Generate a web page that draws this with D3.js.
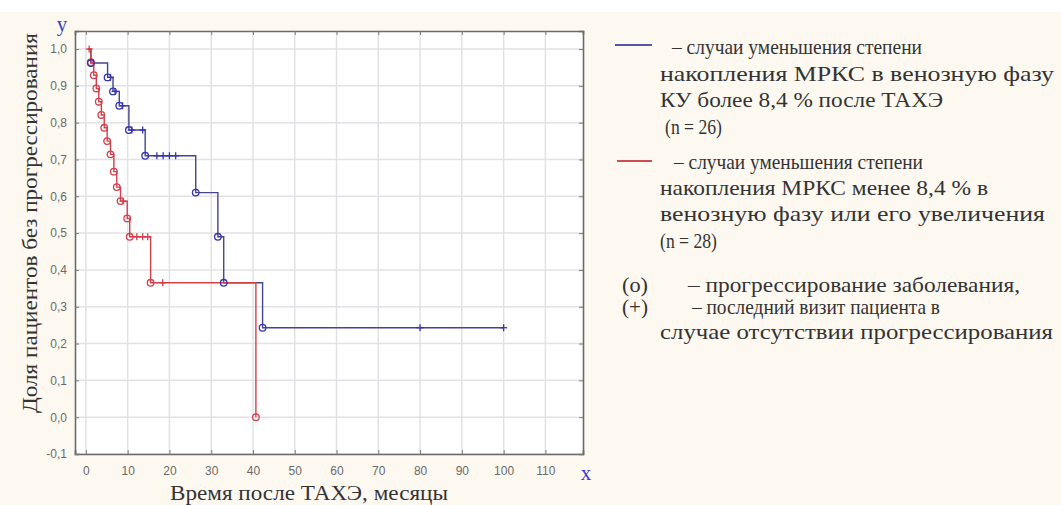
<!DOCTYPE html>
<html>
<head>
<meta charset="utf-8">
<script src="https://cdn.jsdelivr.net/npm/d3@7"></script>
<style>
  html, body { margin: 0; padding: 0; background: #fdf9f1; }
  svg { display: block; }
</style>
</head>
<body>
<svg id="chart" width="1061" height="505"></svg>
<script>
// ---- data ----
const xTicks = [0, 10, 20, 30, 40, 50, 60, 70, 80, 90, 100, 110];
const yTicks = [-0.1, 0.0, 0.1, 0.2, 0.3, 0.4, 0.5, 0.6, 0.7, 0.8, 0.9, 1.0];

// group 1 (blue, n = 26): step times and survival after each step
const blueTimes = [0.5, 1.2, 5.2, 6.5, 8.0, 10.3, 14.2, 26.3, 31.6, 33.0, 42.3, 100];
const blueSurv  = [1.0, 0.962, 0.923, 0.885, 0.846, 0.78, 0.71, 0.61, 0.49, 0.365, 0.243, 0.243];
const blueEventTimes = [1.2, 5.2, 6.5, 8.0, 10.3, 14.2, 26.3, 31.6, 33.0, 42.3];
const blueEventSurv  = [0.962, 0.923, 0.885, 0.846, 0.78, 0.71, 0.61, 0.49, 0.365, 0.243];
const blueCensorTimes = [5.9, 7.0, 8.8, 11.0, 13.6, 17.0, 18.5, 20.0, 21.5, 80, 100];
const blueCensorSurv  = [0.923, 0.885, 0.846, 0.78, 0.78, 0.71, 0.71, 0.71, 0.71, 0.243, 0.243];

// group 2 (red, n = 28)
const redTimes = [0.5, 1.2, 1.9, 2.5, 3.1, 3.7, 4.4, 5.1, 5.9, 6.7, 7.4, 8.3, 9.9, 10.5, 15.5, 40.7];
const redSurv  = [1.0, 0.964, 0.929, 0.893, 0.857, 0.821, 0.786, 0.75, 0.714, 0.667, 0.625, 0.587, 0.54, 0.49, 0.365, 0.0];
const redEventTimes = [1.2, 1.9, 2.5, 3.1, 3.7, 4.4, 5.1, 5.9, 6.7, 7.4, 8.3, 9.9, 10.5, 15.5, 40.7];
const redEventSurv  = [0.964, 0.929, 0.893, 0.857, 0.821, 0.786, 0.75, 0.714, 0.667, 0.625, 0.587, 0.54, 0.49, 0.365, 0.0];
const redCensorTimes = [0.8, 8.9, 12.2, 13.6, 14.8, 18.4];
const redCensorSurv  = [1.0, 0.587, 0.49, 0.49, 0.49, 0.365];

const legendBlueLines = ["– случаи уменьшения степени", "накопления МРКС в венозную фазу", "КУ более 8,4 % после ТАХЭ", "(n = 26)"];
const legendRedLines  = ["– случаи уменьшения степени", "накопления МРКС менее 8,4 % в", "венозную фазу или его увеличения", "(n = 28)"];
const legendMarkSymbols = ["(o)", "(+)"];
const legendMarkLines = ["– прогрессирование заболевания,", "– последний визит пациента в", "случае отсутствии прогрессирования"];

const xTitle = "Время после ТАХЭ, месяцы";
const yTitle = "Доля пациентов без прогрессирования";

// ---- layout ----
const svg = d3.select("#chart");
const plot = { left: 75, top: 31, right: 583, bottom: 454 };
const BLUE = "#45458f", BLUE_M = "#3434b0", RED = "#d2404c";

const x = d3.scaleLinear().domain([-2.6, 119]).range([plot.left, plot.right]);
const y = d3.scaleLinear().domain([-0.1, 1.049]).range([plot.bottom, plot.top]);

svg.append("rect").attr("x", 0).attr("y", 0).attr("width", 1061).attr("height", 12).attr("fill", "#ffffff");

svg.append("rect")
  .attr("x", plot.left).attr("y", plot.top)
  .attr("width", plot.right - plot.left).attr("height", plot.bottom - plot.top)
  .attr("fill", "#ffffff");

// grid
const grid = svg.append("g");
grid.selectAll("line.gx").data(xTicks).join("line")
  .attr("x1", d => x(d)).attr("x2", d => x(d))
  .attr("y1", plot.top).attr("y2", plot.bottom)
  .attr("stroke", "#e2e2e6").attr("stroke-width", 1.5);
grid.selectAll("line.gy").data(yTicks).join("line")
  .attr("y1", d => y(d)).attr("y2", d => y(d))
  .attr("x1", plot.left).attr("x2", plot.right)
  .attr("stroke", "#e2e2e6").attr("stroke-width", 1.5);

// axes (inside ticks on all sides)
const fmt = d => d3.format(".1f")(d).replace(".", ",").replace("−", "-");
const axB = svg.append("g").attr("transform", `translate(0,${plot.bottom})`)
  .call(d3.axisBottom(x).tickValues(xTicks).tickSize(-4).tickPadding(12).tickFormat(d3.format("d")));
const axL = svg.append("g").attr("transform", `translate(${plot.left},0)`)
  .call(d3.axisLeft(y).tickValues(yTicks).tickSize(-4).tickPadding(8).tickFormat(fmt));
const axT = svg.append("g").attr("transform", `translate(0,${plot.top})`)
  .call(d3.axisTop(x).tickValues(xTicks).tickSize(-4).tickFormat(""));
const axR = svg.append("g").attr("transform", `translate(${plot.right},0)`)
  .call(d3.axisRight(y).tickValues(yTicks).tickSize(-4).tickFormat(""));
[axB, axL, axT, axR].forEach(g => {
  g.select(".domain").attr("stroke", "#6a6a6a").attr("stroke-width", 1.6);
  g.selectAll(".tick line").attr("stroke", "#7a7a7a");
  g.selectAll(".tick text").attr("fill", "#6a6a6a")
    .style("font-family", "'Liberation Sans', Arial, sans-serif").style("font-size", "12px");
});

// curves
const line = d3.line().x(d => x(d[0])).y(d => y(d[1])).curve(d3.curveStepAfter);
svg.append("path").datum(d3.zip(blueTimes, blueSurv)).attr("d", line)
  .attr("fill", "none").attr("stroke", BLUE).attr("stroke-width", 1.4);
svg.append("path").datum(d3.zip(redTimes, redSurv)).attr("d", line)
  .attr("fill", "none").attr("stroke", RED).attr("stroke-width", 1.4);

function circles(ts, ss, color) {
  svg.append("g").selectAll("circle").data(d3.zip(ts, ss)).join("circle")
    .attr("cx", d => x(d[0])).attr("cy", d => y(d[1])).attr("r", 3.3)
    .attr("fill", "none").attr("stroke", color).attr("stroke-width", 1.3);
}
function pluses(ts, ss, color) {
  const g = svg.append("g").attr("stroke", color).attr("stroke-width", 1.3);
  const pts = d3.zip(ts, ss);
  g.selectAll("line.h").data(pts).join("line")
    .attr("x1", d => x(d[0]) - 3.5).attr("x2", d => x(d[0]) + 3.5)
    .attr("y1", d => y(d[1])).attr("y2", d => y(d[1]));
  g.selectAll("line.v").data(pts).join("line")
    .attr("x1", d => x(d[0])).attr("x2", d => x(d[0]))
    .attr("y1", d => y(d[1]) - 3.5).attr("y2", d => y(d[1]) + 3.5);
}
circles(redEventTimes, redEventSurv, RED);
pluses(redCensorTimes, redCensorSurv, RED);
circles(blueEventTimes, blueEventSurv, BLUE_M);
pluses(blueCensorTimes, blueCensorSurv, BLUE_M);

// text helper: fit to a measured width
const serif = "'Liberation Serif', 'Times New Roman', serif";
function fitText(parent, str, px, py, width, size) {
  const t = parent.append("text").attr("x", px).attr("y", py)
    .style("font-family", serif).style("font-size", size + "px").attr("fill", "#333").text(str);
  if (width) t.attr("textLength", width).attr("lengthAdjust", "spacingAndGlyphs");
  return t;
}

// axis titles
fitText(svg, xTitle, 170, 500, 278, 21);
const yt = svg.append("g").attr("transform", "translate(37,413) rotate(-90)");
fitText(yt, yTitle, 0, 0, 380, 21);
svg.append("text").attr("x", 62).attr("y", 31).attr("text-anchor", "middle")
  .style("font-family", serif).style("font-size", "21px").attr("fill", "#3a3acc").text("y");
svg.append("text").attr("x", 586).attr("y", 480).attr("text-anchor", "middle")
  .style("font-family", serif).style("font-size", "21px").attr("fill", "#3a3acc").text("x");

// legend
const lg = svg.append("g");
lg.append("line").attr("x1", 615).attr("x2", 652).attr("y1", 45).attr("y2", 45).attr("stroke", "#5555aa").attr("stroke-width", 2.2);
lg.append("line").attr("x1", 617).attr("x2", 652).attr("y1", 161).attr("y2", 161).attr("stroke", "#cc4d55").attr("stroke-width", 2.2);
const blueX = [672, 660, 660, 665];
const blueY = [54, 81, 107, 134];
const blueW = [250, 394, 283, 57];
legendBlueLines.forEach((t, i) => fitText(lg, t, blueX[i], blueY[i], blueW[i], 21));
const redX = [674, 660, 660, 660];
const redY = [169, 195, 221, 248];
const redW = [249, 328, 385, 57];
legendRedLines.forEach((t, i) => fitText(lg, t, redX[i], redY[i], redW[i], 21));
const symY = [292, 314];
legendMarkSymbols.forEach((t, i) => fitText(lg, t, 622, symY[i], 26, 21));
const markX = [688, 692, 660];
const markY = [292, 314, 339];
const markW = [332, 248, 393];
legendMarkLines.forEach((t, i) => fitText(lg, t, markX[i], markY[i], markW[i], 21));
</script>
</body>
</html>
